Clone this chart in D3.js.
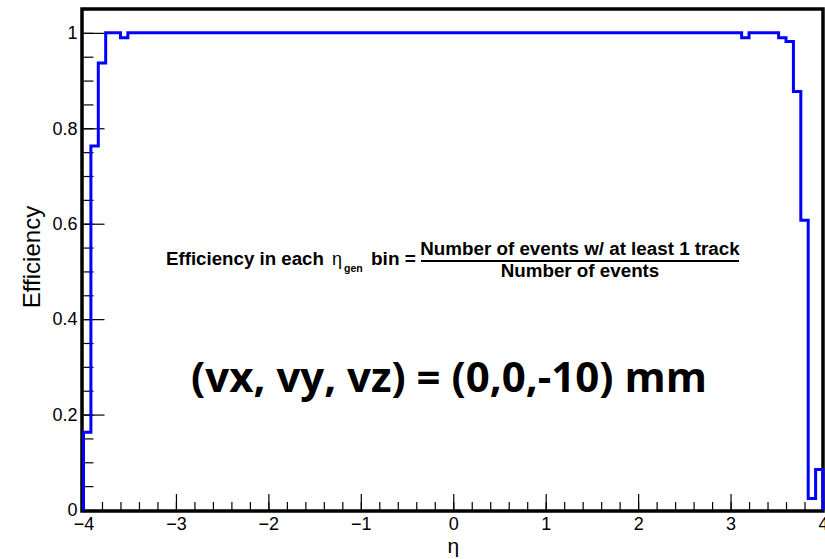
<!DOCTYPE html>
<html>
<head>
<meta charset="utf-8">
<script src="https://cdn.jsdelivr.net/npm/d3@7"></script>
<style>
  html, body { margin: 0; padding: 0; background: #fff; }
  svg { display: block; font-family: "Liberation Sans", Arial, sans-serif; }
</style>
</head>
<body>
<svg id="chart" width="825" height="559"></svg>
<script>
// ---- data ----
const binLowEdges = [
  -4.00,-3.92,-3.84,-3.76,-3.68,-3.60,-3.52,-3.44,-3.36,-3.28,
  -3.20,-3.12,-3.04,-2.96,-2.88,-2.80,-2.72,-2.64,-2.56,-2.48,
  -2.40,-2.32,-2.24,-2.16,-2.08,-2.00,-1.92,-1.84,-1.76,-1.68,
  -1.60,-1.52,-1.44,-1.36,-1.28,-1.20,-1.12,-1.04,-0.96,-0.88,
  -0.80,-0.72,-0.64,-0.56,-0.48,-0.40,-0.32,-0.24,-0.16,-0.08,
   0.00, 0.08, 0.16, 0.24, 0.32, 0.40, 0.48, 0.56, 0.64, 0.72,
   0.80, 0.88, 0.96, 1.04, 1.12, 1.20, 1.28, 1.36, 1.44, 1.52,
   1.60, 1.68, 1.76, 1.84, 1.92, 2.00, 2.08, 2.16, 2.24, 2.32,
   2.40, 2.48, 2.56, 2.64, 2.72, 2.80, 2.88, 2.96, 3.04, 3.12,
   3.20, 3.28, 3.36, 3.44, 3.52, 3.60, 3.68, 3.76, 3.84, 3.92
];
const efficiency = [
  0.163,0.763,0.937,1,1,0.99,1,1,1,1,
  1,1,1,1,1,1,1,1,1,1,
  1,1,1,1,1,1,1,1,1,1,
  1,1,1,1,1,1,1,1,1,1,
  1,1,1,1,1,1,1,1,1,1,
  1,1,1,1,1,1,1,1,1,1,
  1,1,1,1,1,1,1,1,1,1,
  1,1,1,1,1,1,1,1,1,1,
  1,1,1,1,1,1,1,1,1,0.99,
  1,1,1,1,0.99,0.982,0.877,0.607,0.024,0.085
];
const xDomain = [-4, 4];
const yDomain = [0, 1.05];
const xMajorTicks = [-4,-3,-2,-1,0,1,2,3,4];
const yMajorTicks = [0,0.2,0.4,0.6,0.8,1];
const yTitle = "Efficiency";
const xTitle = "η";
const bigLabel = "(vx, vy, vz) = (0,0,-10) mm";

// ---- layout ----
const svg = d3.select("#chart");
const L = 83.5, R = 823, T = 9, B = 510;
const x = d3.scaleLinear().domain(xDomain).range([L, R]);
const y = d3.scaleLinear().domain(yDomain).range([B, T]);

// histogram outline points
const pts = [[xDomain[0], 0]];
binLowEdges.forEach((e, i) => pts.push([e, efficiency[i]]));
pts.push([xDomain[1], efficiency[efficiency.length - 1]]);
pts.push([xDomain[1], 0]);
const line = d3.line().x(d => x(d[0])).y(d => y(d[1])).curve(d3.curveStepAfter);

// minor ticks
const xMinor = d3.range(-4, 4.0001, 0.2).map(v => +v.toFixed(2));
const yMinor = d3.range(0, 1.0501, 0.05).map(v => +v.toFixed(2));

const gxMinor = svg.append("g").attr("transform", `translate(0,${B})`)
  .call(d3.axisBottom(x).tickValues(xMinor).tickSize(-8).tickFormat(""));
const gyMinor = svg.append("g").attr("transform", `translate(${L},0)`)
  .call(d3.axisLeft(y).tickValues(yMinor).tickSize(-10).tickFormat(""));
const gx = svg.append("g").attr("transform", `translate(0,${B})`)
  .call(d3.axisBottom(x).tickValues(xMajorTicks).tickSize(-16).tickPadding(7).tickFormat(d3.format("")));
const gy = svg.append("g").attr("transform", `translate(${L},0)`)
  .call(d3.axisLeft(y).tickValues(yMajorTicks).tickSize(-21).tickPadding(6).tickFormat(d3.format("")));

[gxMinor, gyMinor, gx, gy].forEach(g => {
  g.select(".domain").remove();
  g.selectAll(".tick line").attr("stroke", "#000").attr("stroke-width", 1.2);
});
[gx, gy].forEach(g => g.selectAll(".tick text").attr("fill", "#000")
  .style("font-size", "18px").style("font-family", "'Liberation Sans', Arial, sans-serif"));

// frame
svg.append("rect").attr("x", 82).attr("y", T).attr("width", R - 82).attr("height", B - T + 1)
  .attr("fill", "none").attr("stroke", "#000").attr("stroke-width", 3.5);

svg.append("path").attr("d", line(pts)).attr("fill", "none")
  .attr("stroke", "#0000ff").attr("stroke-width", 3);

// titles
svg.append("text").attr("transform", "translate(40,257) rotate(-90)")
  .attr("text-anchor", "middle").style("font-size", "24px").text(yTitle);
svg.append("text").attr("x", x(0)).attr("y", 553)
  .attr("text-anchor", "middle").style("font-size", "21px").text(xTitle);

// formula annotation
const f = svg.append("g").attr("font-weight", "bold").attr("fill", "#000");
f.append("text").attr("x", 166).attr("y", 265).style("font-size", "18.7px").text("Efficiency in each");
f.append("text").attr("x", 332).attr("y", 265).style("font-size", "18px").attr("font-weight", "normal").text("η");
f.append("text").attr("x", 344).attr("y", 272).style("font-size", "10.5px").text("gen");
f.append("text").attr("x", 371).attr("y", 265).style("font-size", "19px").text("bin =");
f.append("text").attr("x", 580).attr("y", 255).attr("text-anchor", "middle").style("font-size", "18.8px")
  .text("Number of events w/ at least 1 track");
f.append("line").attr("x1", 421).attr("x2", 739).attr("y1", 261).attr("y2", 261)
  .attr("stroke", "#000").attr("stroke-width", 2);
f.append("text").attr("x", 580).attr("y", 277).attr("text-anchor", "middle").style("font-size", "18.8px")
  .text("Number of events");

svg.append("text").attr("x", 449).attr("y", 392).attr("text-anchor", "middle")
  .style("font-family", "'Open Sans', sans-serif").attr("font-weight", "bold")
  .style("font-size", "42px").text(bigLabel);
</script>
</body>
</html>
